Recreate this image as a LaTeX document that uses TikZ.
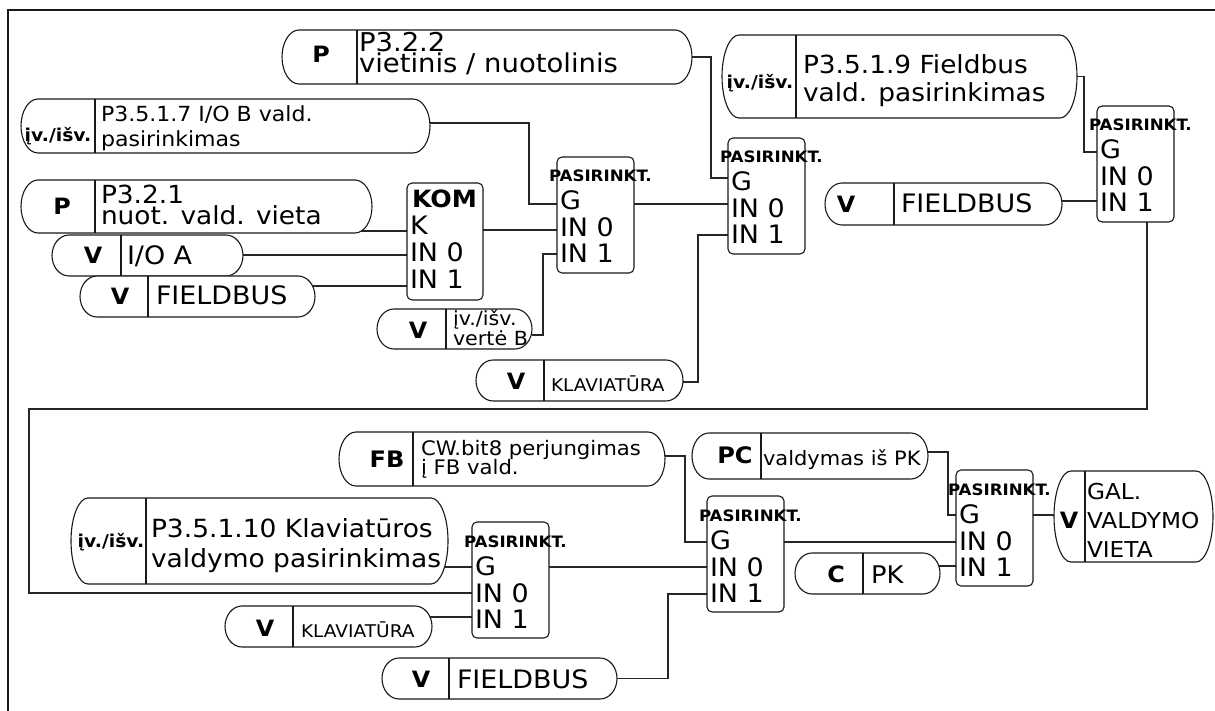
\documentclass[tikz,border=0pt]{standalone}
\usepackage{fontspec}
\setmainfont{DejaVu Sans}[FakeStretch=1.06]
\usetikzlibrary{backgrounds,calc}
\newcommand\fs[2]{\fontsize{#1}{#2}\selectfont}
\newcommand\twoln[2]{\vtop{\lineskiplimit=-100pt\lineskip=0pt\hbox{#1}\hbox{#2}}}
\newcommand\threeln[3]{\vtop{\lineskiplimit=-100pt\lineskip=0pt\hbox{#1}\hbox{#2}\hbox{#3}}}
\tikzset{
  wire/.style={draw=black!85, line width=1.1pt},
  outline/.style={draw=black!90, line width=1.1pt, fill=white},
  anchorbox/.style={inner sep=0pt, outer sep=0pt, draw=none},
  txt/.style={inner sep=0pt, outer sep=0pt, anchor=base west},
  tag/.style={inner sep=0pt, outer sep=0pt, anchor=base, font=\bfseries\fs{22.5}{23}},
  selframe/.style={draw=black!90, line width=1.1pt, fill=white, rounded corners=5pt, inner sep=0pt, outer sep=0pt},
  seltitle/.style={txt, font=\bfseries\fs{15.7}{16}},
  row/.style={txt, font=\fs{25.4}{25}},
}
% pill: name, left, top, right, bottom, divider
\newcommand\pill[6]{%
  \node[anchorbox, minimum width={(#4)-(#2)}, minimum height={(#5)-(#3)}] (#1) at ({((#2)+(#4))/2},{((#3)+(#5))/2}) {};
  \pgfmathsetmacro\pillry{((#5)-(#3))/2}%
  \path[outline] ({(#2)+17},#3) -- ({(#4)-17},#3) arc[start angle=-90,end angle=90,x radius=17,y radius=\pillry] -- ({(#2)+17},#5) arc[start angle=90,end angle=270,x radius=17,y radius=\pillry] -- cycle;
  \draw[outline] (#6,#3) -- (#6,#5);
}
% selector box: name, left, top, pin G y, pin IN0 y, pin IN1 y
\newcommand\sel[6]{%
  \node[selframe, minimum width=77pt, minimum height=116pt] (#1) at ({(#2)+38.5},{(#3)+58}) {};
  \node[seltitle] (#1-t) at ({(#2)-8},{(#3)+25}) {PASIRINKT.};
  \node[row] (#1-tG) at ({(#2)+3},{(#3)+53}) {G};
  \node[row] (#1-t0) at ({(#2)+3},{(#3)+80}) {IN 0};
  \node[row] (#1-t1) at ({(#2)+3},{(#3)+106}) {IN 1};
  \coordinate (#1-G) at (#2,#4);
  \coordinate (#1-0) at (#2,#5);
  \coordinate (#1-1) at (#2,#6);
}
\begin{document}
\begin{tikzpicture}[x=1pt,y=-1pt]
\useasboundingbox (0,0) rectangle (1215,711);
\draw[line width=1.8pt, black!90] (8,711) -- (8,10) -- (1215,10);

% ---------- upper part ----------
\pill{p322}{282}{30}{692}{84}{357}
\node[tag] (p322a) at (321,63) {P};
\node[txt,font=\fs{25.9}{21}] (p322b) at (359,52) {\twoln{P3.2.2}{vietinis / nuotolinis}};

\pill{p3517}{21}{99}{430}{153}{95}
\node[tag,font=\bfseries\fs{17.7}{18}] (p3517a) at (58,142) {įv./išv.};
\node[txt,font=\fs{20.8}{25}] (p3517b) at (101,122) {\twoln{P3.5.1.7 I/O B vald.}{pasirinkimas}};

\pill{p321}{21}{180}{372}{233}{95}
\node[tag] (p321a) at (62,215) {P};
\node[txt,font=\fs{24.9}{21}] (p321b) at (101,204) {\twoln{P3.2.1}{nuot. vald. vieta}};

\pill{pioa}{52}{235}{243}{276}{121}
\node[tag] (pioaa) at (93,264) {V};
\node[txt,font=\fs{25.4}{25}] (pioab) at (127,265) {I/O A};

\pill{pfba}{80}{276}{315}{317}{148}
\node[tag] (pfbaa) at (120,305) {V};
\node[txt,font=\fs{25.4}{25}] (pfbab) at (156,305) {FIELDBUS};

\pill{pvb}{377}{309}{532}{349}{446}
\node[tag] (pvba) at (418,338) {V};
\node[txt,font=\fs{19.5}{20}] (pvbb) at (453,325) {\twoln{įv./išv.}{vertė B}};

\pill{pkla}{476}{360}{683}{401}{544}
\node[tag] (pklaa) at (516,389) {V};
\node[txt,font=\fs{17.5}{18}] (pklab) at (551,391) {KLAVIATŪRA};

\pill{p3519}{722}{35}{1077}{118}{796}
\node[tag,font=\bfseries\fs{17.7}{18}] (p3519a) at (760,89) {įv./išv.};
\node[txt,font=\fs{24.9}{28}] (p3519b) at (803,74) {\twoln{P3.5.1.9 Fieldbus}{vald. pasirinkimas}};

\pill{pfbb}{825}{183}{1062}{225}{894}
\node[tag] (pfbba) at (846,213) {V};
\node[txt,font=\fs{25.4}{25}] (pfbbb) at (901,213) {FIELDBUS};

\node[selframe, minimum width=76pt, minimum height=117pt] (kom) at (445,241.5) {};
\node[txt,font=\bfseries\fs{23.8}{24}] (komt) at (412,208) {KOM};
\node[row] (komtK) at (410,235) {K};
\node[row] (komt0) at (410,262) {IN 0};
\node[row] (komt1) at (410,289) {IN 1};
\coordinate (kom-K) at (407,231);
\coordinate (kom-0) at (407,255);
\coordinate (kom-1) at (407,286);

\sel{b1}{557}{157}{204}{230}{254}
\sel{b2}{728}{138}{178}{204}{235}
\sel{b3}{1097}{106}{152}{178}{201}

% ---------- lower part ----------
\pill{pcw}{339}{432}{665}{486}{413}
\node[tag,font=\bfseries\fs{22.7}{23}] (pcwa) at (387,467) {FB};
\node[txt,font=\fs{20}{19}] (pcwb) at (421,455) {\twoln{CW.bit8 perjungimas}{į FB vald.}};

\pill{p35110}{71}{498}{448}{584}{146}
\node[tag,font=\bfseries\fs{17.7}{18}] (p35110a) at (111,547) {įv./išv.};
\node[txt,font=\fs{25}{30}] (p35110b) at (151,537) {\twoln{P3.5.1.10 Klaviatūros}{valdymo pasirinkimas}};

\pill{pklb}{225}{606}{432}{647}{293}
\node[tag] (pklba) at (265,636) {V};
\node[txt,font=\fs{17.5}{18}] (pklbb) at (301,637) {KLAVIATŪRA};

\pill{pfbc}{382}{658}{617}{699}{449}
\node[tag] (pfbca) at (421,687) {V};
\node[txt,font=\fs{25.4}{25}] (pfbcb) at (457,688) {FIELDBUS};

\pill{ppc}{692}{433}{928}{479}{761}
\node[tag,font=\bfseries\fs{22.7}{23}] (ppca) at (735,463) {PC};
\node[txt,font=\fs{19.8}{20}] (ppcb) at (763,465) {valdymas iš PK};

\pill{ppk}{795}{553}{940}{594}{863}
\node[tag] (ppka) at (836,582) {C};
\node[txt,font=\fs{24.3}{24}] (ppkb) at (871,583) {PK};

\sel{b4}{472}{522}{567}{593}{617}
\sel{b5}{707}{496}{542}{567}{594}
\sel{b6}{956}{470}{515}{542}{566}

\pill{pout}{1054}{471}{1213}{562}{1085}
\node[tag] (pouta) at (1069,528) {V};
\node[txt,font=\fs{21.9}{29}] (poutb) at (1087,499) {\threeln{GAL.}{VALDYMO}{VIETA}};

\coordinate (b3o) at (1147,222);
\coordinate (loopL) at (29,409);

% ---------- connectors ----------
\begin{pgfonlayer}{background}
\draw[wire] (p322.east) -- ++(19,0) |- (b2-G);
\draw[wire] ($(p3517.east)+(0,-3)$) -- ++(99,0) |- (b1-G);
\draw[wire] (kom-K -| p321.center) -- (kom-K);
\draw[wire] (kom-0 -| pioa.center) -- (kom-0);
\draw[wire] (kom-1 -| pfba.center) -- (kom-1);
\draw[wire] (b1-0 -| kom.center) -- (b1-0);
\draw[wire] ($(pvb.east)+(0,6)$) -- ++(11,0) |- (b1-1);
\draw[wire] ($(pkla.east)+(0,1.5)$) -- ++(15,0) |- (b2-1);
\draw[wire] (b2-0 -| b1.center) -- (b2-0);
\draw[wire] (p3519.east) -- ++(7,0) |- (b3-G);
\draw[wire] (b3-1 -| pfbb.center) -- (b3-1);
\draw[wire] (b3o) |- (loopL) |- (b4-0);
\draw[wire] (b4-G -| p35110.center) -- (b4-G);
\draw[wire] (b4-1 -| pklb.center) -- (b4-1);
\draw[wire] (b5-0 -| b4.center) -- (b5-0);
\draw[wire] ($(pcw.east)+(0,-3)$) -- ++(20,0) |- (b5-G);
\draw[wire] (pfbc.east) -- ++(51,0) |- (b5-1);
\draw[wire] (b6-0 -| b5.center) -- (b6-0);
\draw[wire] ($(ppc.east)+(0,-4)$) -- ++(20,0) |- (b6-G);
\draw[wire] (b6-1 -| ppk.center) -- (b6-1);
\draw[wire] (b6-G -| b6.center) -- (b6-G -| pout.center);
\end{pgfonlayer}
\end{tikzpicture}
\end{document}
